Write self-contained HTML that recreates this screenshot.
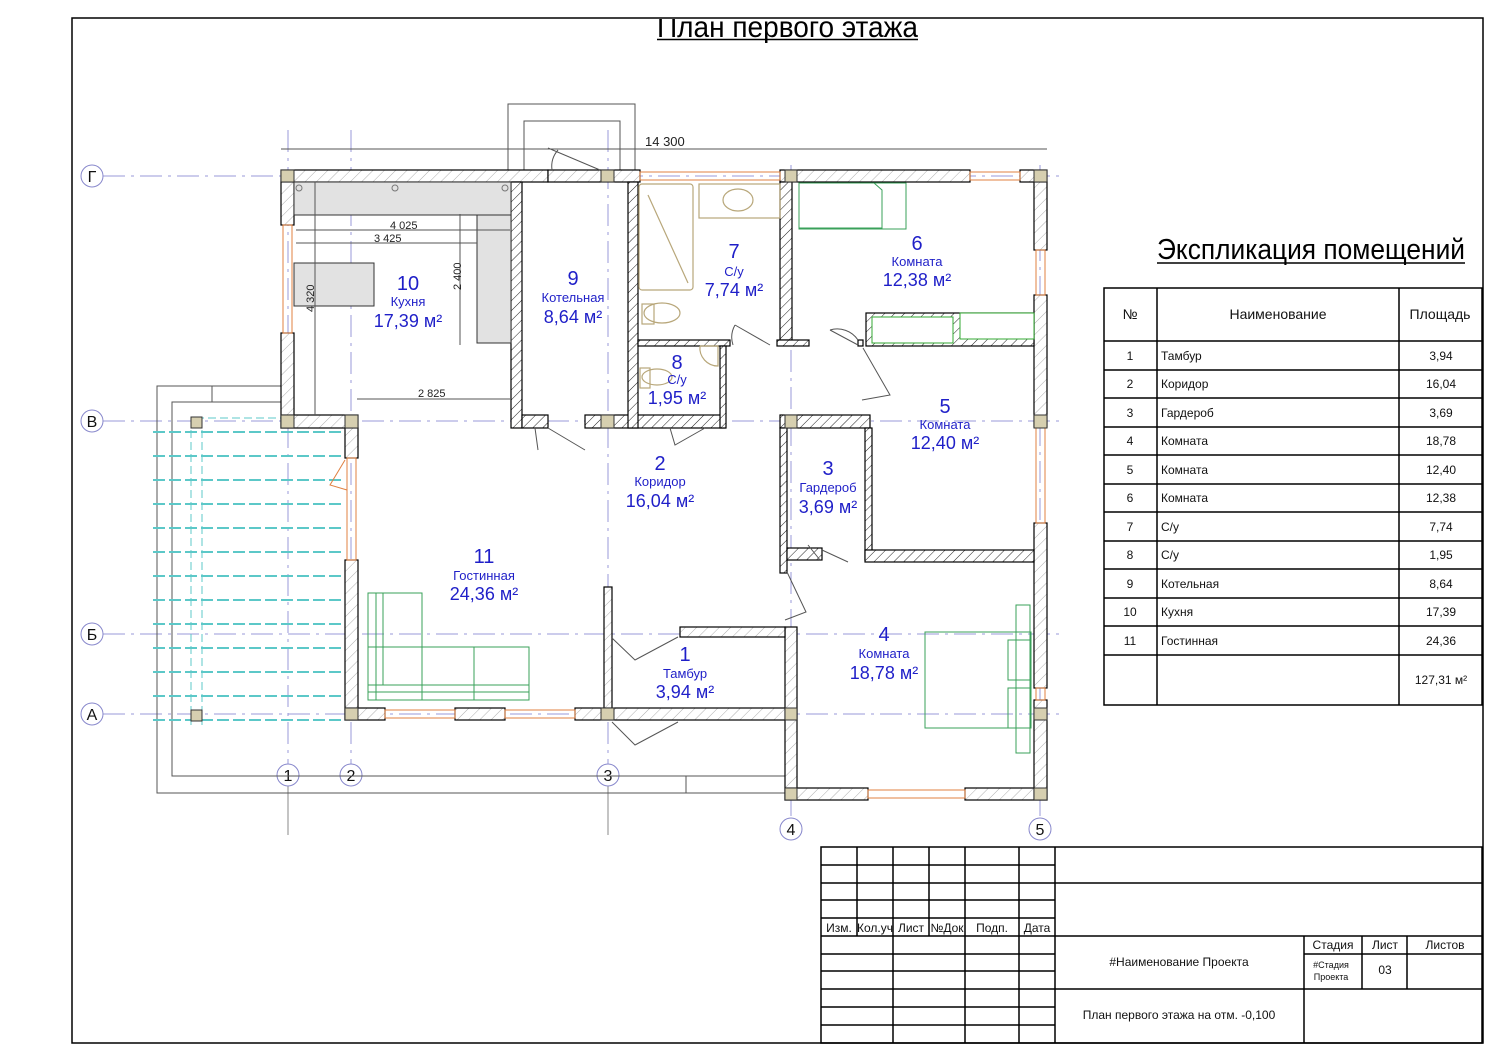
<!DOCTYPE html>
<html><head><meta charset="utf-8"><style>
html,body{margin:0;padding:0;background:#fff}
svg{display:block}
text{font-family:"Liberation Sans","DejaVu Sans",sans-serif}
.b{fill:#1f1fc8}
.t{fill:#111;font-size:12px}
</style></head><body>
<svg width="1500" height="1061" viewBox="0 0 1500 1061" xmlns="http://www.w3.org/2000/svg">
<defs>
<pattern id="h" width="8" height="8" patternUnits="userSpaceOnUse" patternTransform="rotate(45)"><rect width="8" height="8" fill="#fff"/><line x1="0" y1="0" x2="0" y2="8" stroke="#999" stroke-width="0.8"/></pattern>
<pattern id="hd" width="7" height="7" patternUnits="userSpaceOnUse" patternTransform="rotate(45)"><rect width="7" height="7" fill="#fff"/><line x1="0" y1="0" x2="0" y2="7" stroke="#222" stroke-width="1"/></pattern>
<clipPath id="cl"><rect x="0" y="19" width="1500" height="40"/></clipPath>
</defs>

<!-- frame -->
<rect x="72" y="18" width="1411" height="1025" fill="none" stroke="#000" stroke-width="1.5"/>
<g clip-path="url(#cl)"><text x="657" y="37" font-size="30" textLength="261" lengthAdjust="spacingAndGlyphs" fill="#000">План первого этажа</text></g>
<line x1="657" y1="39.5" x2="918" y2="39.5" stroke="#000" stroke-width="1.5"/>

<!-- axes -->
<g stroke="#9a9ad8" stroke-width="1" stroke-dasharray="22,6,3,6" fill="none">
<line x1="103" y1="176" x2="1060" y2="176"/>
<line x1="103" y1="421" x2="1060" y2="421"/>
<line x1="103" y1="634" x2="1060" y2="634"/>
<line x1="103" y1="714" x2="1060" y2="714"/>
<line x1="288" y1="130" x2="288" y2="764"/>
<line x1="351" y1="130" x2="351" y2="764"/>
<line x1="608" y1="130" x2="608" y2="764"/>
<line x1="791" y1="165" x2="791" y2="818"/>
<line x1="1040" y1="165" x2="1040" y2="818"/>
</g>
<g stroke="#888" stroke-width="1"><line x1="288" y1="786" x2="288" y2="835"/><line x1="608" y1="786" x2="608" y2="835"/></g>
<g fill="#fff" stroke="#8888cc" stroke-width="1">
<circle cx="92" cy="176" r="11"/><circle cx="92" cy="421" r="11"/><circle cx="92" cy="634" r="11"/><circle cx="92" cy="714" r="11"/>
<circle cx="288" cy="775" r="11"/><circle cx="351" cy="775" r="11"/><circle cx="608" cy="775" r="11"/><circle cx="791" cy="829" r="11"/><circle cx="1040" cy="829" r="11"/>
</g>
<g font-size="16" fill="#111" text-anchor="middle">
<text x="92" y="182">Г</text><text x="92" y="427">В</text><text x="92" y="640">Б</text><text x="92" y="720">А</text>
<text x="288" y="781">1</text><text x="351" y="781">2</text><text x="608" y="781">3</text><text x="791" y="835">4</text><text x="1040" y="835">5</text>
</g>

<!-- pergola / terrace -->
<g fill="none" stroke="#555" stroke-width="1">
<polyline points="281,386 157,386 157,793 785,793"/>
<polyline points="281,402 172,402 172,776 785,776"/>
<rect x="508" y="104" width="127" height="66"/>
<polyline points="524,170 524,121 620,121 620,170"/>
<line x1="281" y1="149" x2="1047" y2="149"/>
<line x1="212" y1="386" x2="212" y2="402"/><line x1="686" y1="776" x2="686" y2="793"/>
</g>
<text x="645" y="146" font-size="13" fill="#222">14 300</text>
<g stroke="#5cc8c8" stroke-width="2" stroke-dasharray="12,4">
<line x1="153" y1="432" x2="343" y2="432"/><line x1="153" y1="456" x2="343" y2="456"/><line x1="153" y1="480" x2="343" y2="480"/><line x1="153" y1="504" x2="343" y2="504"/><line x1="153" y1="528" x2="343" y2="528"/><line x1="153" y1="552" x2="343" y2="552"/><line x1="153" y1="576" x2="343" y2="576"/><line x1="153" y1="600" x2="343" y2="600"/><line x1="153" y1="624" x2="343" y2="624"/><line x1="153" y1="648" x2="343" y2="648"/><line x1="153" y1="672" x2="343" y2="672"/><line x1="153" y1="696" x2="343" y2="696"/><line x1="153" y1="720" x2="343" y2="720"/>
</g>
<g stroke="#5cc8c8" stroke-width="1" stroke-dasharray="8,4"><line x1="191" y1="418" x2="191" y2="725"/><line x1="202" y1="418" x2="202" y2="725"/><line x1="196" y1="418" x2="345" y2="418"/></g>
<rect x="191" y="417" width="11" height="11" fill="#d6cfb0" stroke="#333"/>
<rect x="191" y="710" width="11" height="11" fill="#d6cfb0" stroke="#333"/>

<!-- walls outer -->
<g stroke="#000" stroke-width="1.2" fill="url(#h)">
<rect x="281" y="170" width="267" height="12"/>
<rect x="548" y="170" width="92" height="12"/>
<rect x="780" y="170" width="190" height="12"/>
<rect x="1020" y="170" width="27" height="12"/>
<rect x="281" y="182" width="13" height="43"/>
<rect x="281" y="333" width="13" height="95"/>
<rect x="281" y="415" width="77" height="13"/>
<rect x="345" y="428" width="13" height="30"/>
<rect x="345" y="560" width="13" height="160"/>
<rect x="345" y="708" width="40" height="12"/>
<rect x="455" y="708" width="50" height="12"/>
<rect x="575" y="708" width="222" height="12"/>
<rect x="785" y="627" width="12" height="173"/>
<rect x="785" y="788" width="83" height="12"/>
<rect x="965" y="788" width="82" height="12"/>
<rect x="1034" y="182" width="13" height="68"/>
<rect x="1034" y="295" width="13" height="132"/>
<rect x="1034" y="523" width="13" height="165"/>
<rect x="1034" y="700" width="13" height="100"/>
<rect x="680" y="627" width="105" height="10"/>
<rect x="604" y="587" width="8" height="121"/>
</g>
<!-- windows -->
<g fill="none" stroke="#e08040" stroke-width="1">
<rect x="640" y="172" width="140" height="8"/><rect x="970" y="172" width="50" height="8"/>
<rect x="283" y="225" width="9" height="108"/><rect x="347" y="458" width="9" height="102"/>
<rect x="385" y="710" width="70" height="8"/><rect x="505" y="710" width="70" height="8"/>
<rect x="868" y="790" width="97" height="8"/>
<rect x="1036" y="250" width="9" height="45"/><rect x="1036" y="427" width="9" height="96"/><rect x="1036" y="688" width="9" height="12"/>
<path d="M345,460 L330,485 L347,490"/>
</g>
<!-- interior walls -->
<g stroke="#000" stroke-width="1.2" fill="url(#hd)">
<rect x="511" y="182" width="11" height="246"/>
<rect x="522" y="415" width="26" height="13"/>
<rect x="585" y="415" width="140" height="13"/>
<rect x="628" y="182" width="10" height="246"/>
<rect x="638" y="340" width="92" height="6"/>
<rect x="720" y="346" width="6" height="82"/>
<rect x="780" y="182" width="12" height="158"/>
<rect x="777" y="340" width="32" height="6"/>
<rect x="858" y="340" width="5" height="6"/>
<rect x="866" y="313" width="168" height="33"/>
<rect x="780" y="415" width="90" height="13"/>
<rect x="780" y="428" width="7" height="145"/>
<rect x="865" y="428" width="7" height="132"/>
<rect x="787" y="548" width="35" height="12"/>
<rect x="865" y="550" width="169" height="12"/>
</g>
<rect x="872" y="317" width="81" height="26" fill="#fff" stroke="#3a3" stroke-width="1"/>
<rect x="960" y="313" width="74" height="26" fill="#fff" stroke="#3a3" stroke-width="1"/>
<!-- columns -->
<g fill="#d6cfb0" stroke="#333">
<rect x="281" y="170" width="13" height="12"/><rect x="601" y="170" width="13" height="12"/><rect x="785" y="170" width="12" height="12"/><rect x="1034" y="170" width="13" height="12"/>
<rect x="281" y="415" width="13" height="13"/><rect x="345" y="415" width="13" height="13"/><rect x="601" y="415" width="13" height="13"/><rect x="785" y="415" width="12" height="13"/><rect x="1034" y="415" width="13" height="13"/>
<rect x="345" y="708" width="13" height="12"/><rect x="601" y="708" width="13" height="12"/><rect x="785" y="708" width="12" height="12"/><rect x="1034" y="708" width="13" height="12"/>
<rect x="785" y="788" width="12" height="12"/><rect x="1034" y="788" width="13" height="12"/>
</g>
<!-- kitchen furniture -->
<g fill="#e2e2e2" stroke="#333" stroke-width="1">
<rect x="294" y="182" width="217" height="33"/>
<rect x="477" y="215" width="34" height="128"/>
<rect x="294" y="263" width="80" height="43"/>
</g>
<g fill="none" stroke="#777"><circle cx="299" cy="188" r="3"/><circle cx="395" cy="188" r="3"/><circle cx="505" cy="188" r="3"/></g>
<g stroke="#555" stroke-width="1"><line x1="296" y1="230" x2="510" y2="230"/><line x1="296" y1="243" x2="477" y2="243"/><line x1="460" y1="214" x2="460" y2="345"/><line x1="315" y1="182" x2="315" y2="415"/><line x1="357" y1="399" x2="510" y2="399"/></g>
<g font-size="11" fill="#222"><text x="390" y="229">4 025</text><text x="374" y="242">3 425</text><text x="418" y="397">2 825</text>
<text transform="translate(461,290) rotate(-90)">2 400</text><text transform="translate(314,312) rotate(-90)">4 320</text></g>
<!-- bathroom fixtures -->
<g fill="none" stroke="#b8a77a" stroke-width="1.2">
<rect x="639" y="184" width="54" height="106" rx="3"/>
<line x1="648" y1="195" x2="688" y2="283"/>
<rect x="699" y="184" width="81" height="34"/>
<ellipse cx="738" cy="200" rx="15" ry="11"/>
<ellipse cx="662" cy="313" rx="18" ry="10"/><rect x="642" y="304" width="12" height="20"/>
<ellipse cx="657" cy="377" rx="15" ry="8"/><rect x="640" y="368" width="10" height="20"/>
<path d="M700,346 L718,346 L718,366 A18,18 0 0 1 700,346"/>
</g>
<!-- beds -->
<g fill="none" stroke="#3aa05a" stroke-width="1">
<rect x="799" y="183" width="107" height="46"/><path d="M799,228 L882,228 L882,190 L874,183"/>
<rect x="925" y="632" width="106" height="96"/><rect x="1016" y="605" width="14" height="148"/><rect x="1008" y="640" width="22" height="40"/><rect x="1008" y="688" width="22" height="40"/>
<rect x="368" y="593" width="54" height="107"/><rect x="368" y="647" width="161" height="53"/><line x1="474" y1="647" x2="474" y2="700"/><line x1="368" y1="685" x2="529" y2="685"/><line x1="383" y1="593" x2="383" y2="685"/><line x1="376" y1="593" x2="376" y2="700"/><line x1="368" y1="692" x2="529" y2="692"/>
</g>
<!-- doors -->
<g fill="none" stroke="#555" stroke-width="1">
<path d="M535,428 L538,450 M548,428 L585,450"/><path d="M670,428 L675,445 L705,428"/>
<path d="M735,325 L770,345 M735,325 A25,25 0 0 0 733,345"/><path d="M830,330 L858,345 M830,330 A25,25 0 0 1 858,340"/>
<path d="M863,348 L890,395 L862,400"/><path d="M787,572 L806,612 L785,620"/><path d="M822,550 L848,562 M808,545 L820,560"/>
<path d="M612,638 L635,660 L678,637"/><path d="M612,722 L635,745 L678,722"/>
<path d="M548,148 L600,170 M558,150 A25,25 0 0 0 552,170"/>
</g>

<!-- room labels -->
<g class="b" text-anchor="middle">
<g font-size="20"><text x="408" y="290">10</text><text x="573" y="285">9</text><text x="734" y="258">7</text><text x="917" y="250">6</text><text x="677" y="369">8</text><text x="945" y="413">5</text><text x="660" y="470">2</text><text x="828" y="475">3</text><text x="484" y="563">11</text><text x="685" y="661">1</text><text x="884" y="641">4</text></g>
<g font-size="13"><text x="408" y="306">Кухня</text><text x="573" y="302">Котельная</text><text x="734" y="276">С/у</text><text x="917" y="266">Комната</text><text x="677" y="384">С/у</text><text x="945" y="429">Комната</text><text x="660" y="486">Коридор</text><text x="828" y="492">Гардероб</text><text x="484" y="580">Гостинная</text><text x="685" y="678">Тамбур</text><text x="884" y="658">Комната</text></g>
<g font-size="18"><text x="408" y="327">17,39 м²</text><text x="573" y="323">8,64 м²</text><text x="734" y="296">7,74 м²</text><text x="917" y="286">12,38 м²</text><text x="677" y="404">1,95 м²</text><text x="945" y="449">12,40 м²</text><text x="660" y="507">16,04 м²</text><text x="828" y="513">3,69 м²</text><text x="484" y="600">24,36 м²</text><text x="685" y="698">3,94 м²</text><text x="884" y="679">18,78 м²</text></g>
</g>

<!-- explication -->
<text x="1157" y="259" font-size="29" textLength="308" lengthAdjust="spacingAndGlyphs" fill="#000">Экспликация помещений</text>
<line x1="1157" y1="263" x2="1465" y2="263" stroke="#000" stroke-width="1.5"/>
<g stroke="#000" stroke-width="1.5" fill="none">
<rect x="1104" y="288" width="378" height="417"/>
<line x1="1157" y1="288" x2="1157" y2="705"/><line x1="1399" y1="288" x2="1399" y2="705"/>
<line x1="1104" y1="341" x2="1482" y2="341"/><line x1="1104" y1="370" x2="1482" y2="370"/><line x1="1104" y1="398" x2="1482" y2="398"/><line x1="1104" y1="427" x2="1482" y2="427"/><line x1="1104" y1="455" x2="1482" y2="455"/><line x1="1104" y1="484" x2="1482" y2="484"/><line x1="1104" y1="512" x2="1482" y2="512"/><line x1="1104" y1="541" x2="1482" y2="541"/><line x1="1104" y1="569" x2="1482" y2="569"/><line x1="1104" y1="598" x2="1482" y2="598"/><line x1="1104" y1="626" x2="1482" y2="626"/><line x1="1104" y1="655" x2="1482" y2="655"/>
</g>
<g class="t">
<text x="1130" y="319" text-anchor="middle" font-size="14">№</text><text x="1278" y="319" text-anchor="middle" font-size="14">Наименование</text><text x="1440" y="319" text-anchor="middle" font-size="14">Площадь</text>
<g text-anchor="middle"><text x="1130" y="360">1</text><text x="1130" y="388">2</text><text x="1130" y="417">3</text><text x="1130" y="445">4</text><text x="1130" y="474">5</text><text x="1130" y="502">6</text><text x="1130" y="531">7</text><text x="1130" y="559">8</text><text x="1130" y="588">9</text><text x="1130" y="616">10</text><text x="1130" y="645">11</text></g>
<text x="1161" y="360">Тамбур</text><text x="1161" y="388">Коридор</text><text x="1161" y="417">Гардероб</text><text x="1161" y="445">Комната</text><text x="1161" y="474">Комната</text><text x="1161" y="502">Комната</text><text x="1161" y="531">С/у</text><text x="1161" y="559">С/у</text><text x="1161" y="588">Котельная</text><text x="1161" y="616">Кухня</text><text x="1161" y="645">Гостинная</text>
<g text-anchor="middle"><text x="1441" y="360">3,94</text><text x="1441" y="388">16,04</text><text x="1441" y="417">3,69</text><text x="1441" y="445">18,78</text><text x="1441" y="474">12,40</text><text x="1441" y="502">12,38</text><text x="1441" y="531">7,74</text><text x="1441" y="559">1,95</text><text x="1441" y="588">8,64</text><text x="1441" y="616">17,39</text><text x="1441" y="645">24,36</text><text x="1441" y="684">127,31 м²</text></g>
</g>

<!-- title block -->
<g stroke="#000" stroke-width="1.5" fill="none">
<rect x="821" y="847" width="661" height="196"/>
<line x1="1055" y1="847" x2="1055" y2="1043"/>
<line x1="857" y1="847" x2="857" y2="936"/><line x1="893" y1="847" x2="893" y2="1043"/><line x1="929" y1="847" x2="929" y2="936"/><line x1="965" y1="847" x2="965" y2="1043"/><line x1="1019" y1="847" x2="1019" y2="1043"/>
<line x1="821" y1="865" x2="1055" y2="865"/><line x1="821" y1="883" x2="1482" y2="883"/><line x1="821" y1="900" x2="1055" y2="900"/><line x1="821" y1="918" x2="1055" y2="918"/><line x1="821" y1="936" x2="1482" y2="936"/><line x1="821" y1="954" x2="1055" y2="954"/><line x1="821" y1="971" x2="1055" y2="971"/><line x1="821" y1="989" x2="1304" y2="989"/><line x1="821" y1="1007" x2="1055" y2="1007"/><line x1="821" y1="1025" x2="1055" y2="1025"/>
<line x1="1304" y1="936" x2="1304" y2="1043"/><line x1="1362" y1="936" x2="1362" y2="989"/><line x1="1407" y1="936" x2="1407" y2="989"/><line x1="1304" y1="954" x2="1482" y2="954"/><line x1="1304" y1="989" x2="1482" y2="989"/>
</g>
<g class="t" font-size="11" text-anchor="middle">
<text x="839" y="932">Изм.</text><text x="875" y="932">Кол.уч</text><text x="911" y="932">Лист</text><text x="947" y="932">№Док</text><text x="992" y="932">Подп.</text><text x="1037" y="932">Дата</text>
<text x="1333" y="949">Стадия</text><text x="1385" y="949">Лист</text><text x="1445" y="949">Листов</text>
<text x="1331" y="968" font-size="9">#Стадия</text><text x="1331" y="980" font-size="9">Проекта</text><text x="1385" y="974">03</text>
<text x="1179" y="966" font-size="12">#Наименование Проекта</text>
<text x="1179" y="1019" font-size="12">План первого этажа на отм. -0,100</text>
</g>
</svg>
</body></html>
